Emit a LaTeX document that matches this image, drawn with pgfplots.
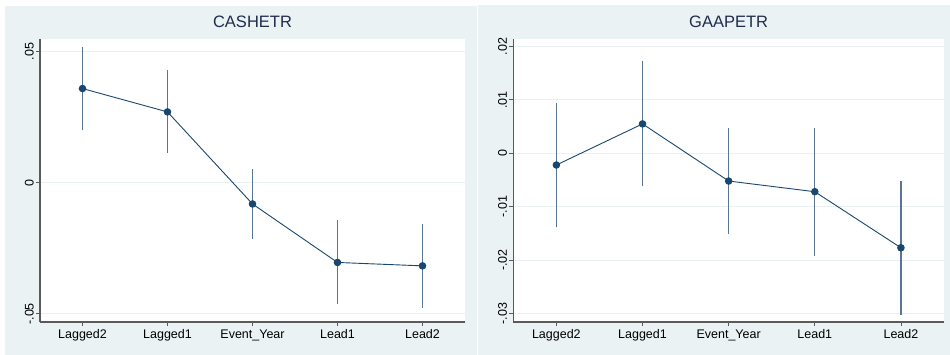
\documentclass[border=0pt]{standalone}
\usepackage{pgfplots}
\pgfplotsset{compat=1.18}
\usepackage{fontspec}
\setmainfont{Liberation Sans}
\definecolor{panelbg}{RGB}{234,242,243}
\definecolor{gridc}{RGB}{233,240,242}
\definecolor{axisc}{RGB}{90,90,90}
\definecolor{navy}{RGB}{26,71,111}
\definecolor{cic}{RGB}{88,118,148}
\definecolor{titlec}{RGB}{30,45,75}
\pgfplotsset{stata/.style={
  scale only axis, height=283pt,
  axis x line*=bottom, axis y line*=left,
  axis line style={draw=axisc, line width=1.1pt, -},
  xmin=-0.5, xmax=4.5, xtick={0,1,2,3,4},
  xticklabels={Lagged2,Lagged1,Event\_Year,Lead1,Lead2},
  tick align=outside, major tick length=4pt,
  tick style={draw=axisc, line width=0.8pt},
  scaled y ticks=false,
  ymajorgrids, xmajorgrids=false, grid style={draw=gridc, line width=0.9pt},
  yticklabel style={rotate=90, anchor=south, font=\fontsize{12.5}{12.5}\selectfont, text=black, inner sep=2pt},
  xticklabel style={font=\fontsize{12.5}{12.5}\selectfont, text=black},
  axis background/.style={fill=white},
  title style={at={(0.5,1)}, anchor=center, yshift=11pt, font=\fontsize{16.5}{16.5}\selectfont, text=titlec},
  clip=false,
}}
\begin{document}
\begin{tikzpicture}[x=1pt,y=1pt]
\path (0,0) rectangle (950,355);
\fill[panelbg] (5,0) rectangle (477,349);
\fill[panelbg] (478,0) rectangle (950,350);
\begin{axis}[stata, at={(40pt,33pt)}, anchor=south west, width=425pt,
  ymin=-0.0531, ymax=0.0548, ytick={-0.05,0,0.05}, yticklabels={-.05,0,.05},
  title={CASHETR}]
\addplot[color=navy, line width=0.9pt, mark=*, mark size=3.3pt, mark options={fill=navy, draw=navy},
  error bars/.cd, y dir=both, y explicit, error mark=none,
  error bar style={color=cic, line width=1.3pt}]
coordinates {
(0,0.0359) +- (0,0.0158)
(1,0.0270) +- (0,0.0158)
(2,-0.0081) +- (0,0.0132)
(3,-0.0304) +- (0,0.0160)
(4,-0.0317) +- (0,0.0161)
};
\end{axis}
\begin{axis}[stata, at={(513.3pt,33pt)}, anchor=south west, width=430.7pt,
  ymin=-0.0316, ymax=0.0214, ytick={-0.03,-0.02,-0.01,0,0.01,0.02},
  yticklabels={-.03,-.02,-.01,0,.01,.02},
  title={GAAPETR}]
\addplot[color=navy, line width=0.9pt, mark=*, mark size=3.3pt, mark options={fill=navy, draw=navy},
  error bars/.cd, y dir=both, y explicit, error mark=none,
  error bar style={color=cic, line width=1.3pt}]
coordinates {
(0,-0.0022) +- (0,0.0117)
(1,0.0055) +- (0,0.0117)
(2,-0.0052) +- (0,0.0100)
(3,-0.0072) +- (0,0.0120)
(4,-0.0177) +- (0,0.0125)
};
\end{axis}
\end{tikzpicture}
\end{document}
